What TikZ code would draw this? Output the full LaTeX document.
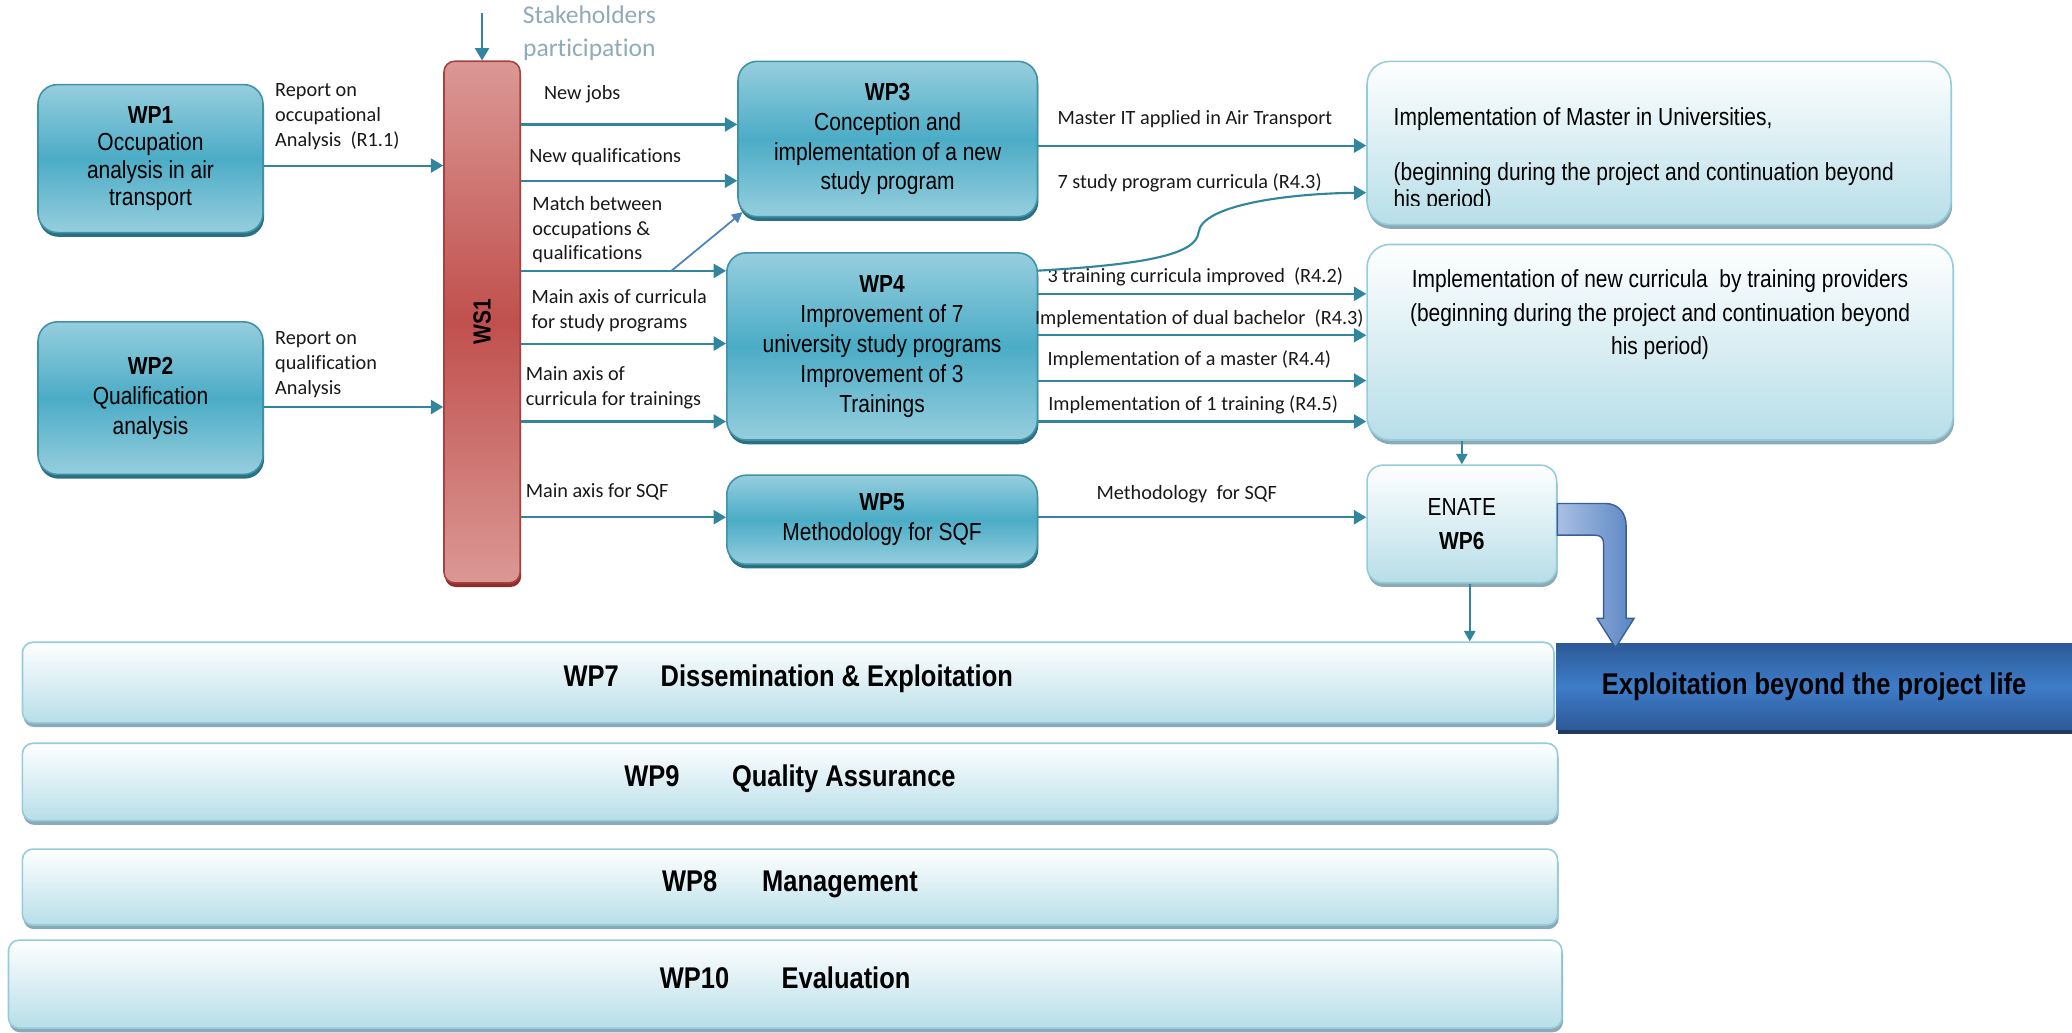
\documentclass[tikz,border=0pt]{standalone}
\usepackage{fontspec}
\setmainfont{Carlito}[Ligatures={NoCommon}]
\newfontfamily\narrowfont[FakeStretch=0.85]{Liberation Sans}
\usetikzlibrary{arrows.meta,shadows}

\definecolor{tealline}{HTML}{31859C}
\definecolor{tealfill}{HTML}{4BACC6}
\definecolor{teallight}{HTML}{96CEDE}
\definecolor{tealshadow}{HTML}{2A6F82}
\definecolor{resedge}{HTML}{93CDDD}
\definecolor{resbottom}{HTML}{B7DEE8}
\definecolor{resshadow}{HTML}{8DAAB4}
\definecolor{wsmid}{HTML}{C0504D}
\definecolor{wslight}{HTML}{DB9895}
\definecolor{wsedge}{HTML}{A8423F}
\definecolor{wsshadow}{HTML}{8B2E2C}
\definecolor{explmid}{HTML}{3E7CC9}
\definecolor{expledge}{HTML}{2D5A97}
\definecolor{explshadow}{HTML}{1E3A63}
\definecolor{forkblue}{HTML}{4F81BD}
\definecolor{stakegray}{HTML}{8FAAB8}
\definecolor{arrowlight}{HTML}{A9C0E2}
\definecolor{arrowdark}{HTML}{5A86C4}
\definecolor{arrowedge}{HTML}{3A5F98}

\tikzset{
  wpbox/.style={draw=tealfill!85!black, line width=0.9pt, rounded corners=11pt,
    top color=teallight, bottom color=teallight, middle color=tealfill,
    align=center, inner sep=2pt, font=\narrowfont\fontsize{14}{17}\selectfont,
    drop shadow={shadow xshift=0.6pt, shadow yshift=-2.4pt, fill=tealshadow, opacity=1}},
  wsbox/.style={draw=wsedge, line width=0.9pt, rounded corners=6pt,
    top color=wslight, bottom color=wslight, middle color=wsmid,
    font=\narrowfont\bfseries\fontsize{14}{17}\selectfont,
    drop shadow={shadow xshift=0.6pt, shadow yshift=-2.4pt, fill=wsshadow, opacity=1}},
  resbox/.style={draw=resedge, line width=0.9pt, rounded corners=13pt,
    top color=white, bottom color=resbottom, align=center,
    font=\narrowfont\fontsize{14}{19.5}\selectfont,
    drop shadow={shadow xshift=0.6pt, shadow yshift=-2.4pt, fill=resshadow, opacity=1}},
  restext/.style={inner sep=0pt, font=\narrowfont\fontsize{14}{15.5}\selectfont},
  barbox/.style={draw=resedge, line width=0.9pt, rounded corners=6pt,
    top color=white, bottom color=resbottom,
    font=\narrowfont\bfseries\fontsize{17}{20}\selectfont,
    text height=12.4pt, text depth=7.7pt,
    drop shadow={shadow xshift=0.6pt, shadow yshift=-2.4pt, fill=resshadow, opacity=1}},
  explbox/.style={draw=none, top color=expledge, bottom color=expledge, middle color=explmid,
    font=\narrowfont\bfseries\fontsize{17}{20}\selectfont,
    drop shadow={shadow xshift=0.8pt, shadow yshift=-2.6pt, fill=explshadow, opacity=1}},
  lbl/.style={inner sep=0pt, align=left, font=\fontsize{11.5}{14}\selectfont, text=black!90},
  stake/.style={inner sep=0pt, align=center, text=stakegray, font=\fontsize{14.5}{18.5}\selectfont},
  link/.style={draw=tealline, line width=1.2pt, -{Triangle[length=7pt,width=8pt]}},
  thinlink/.style={draw=tealline, line width=0.9pt, -{Triangle[length=6pt,width=6.5pt]}},
  fork/.style={draw=forkblue, line width=1pt, -{Triangle[length=6pt,width=6pt]}},
  bigarrow/.style={draw=arrowedge, line width=0.8pt, left color=arrowlight, right color=arrowdark}
}

\begin{document}
\begin{tikzpicture}[x=0.75pt, y=-0.75pt]
    % Fix the canvas
    \useasboundingbox (0,0) rectangle (1568,781);

    % Define the heights of the connector rows
    \foreach \n/\y in {one/125.3, two/308, jobs/94.2, qual/136.8, match/205, study/260,
                       train/319, sqf/391.4, mast/110.2, seven/145.8, three/222.4,
                       dual/253.7, amas/288, otr/319} {
        \coordinate (r\n) at (0,\y);
    }

    % Draw the analysis work packages
    \node[wpbox, minimum width=127.7pt, minimum height=84pt,
          font=\narrowfont\fontsize{14}{15.5}\selectfont] (wp1) at (113.9,120)
        {\textbf{WP1}\\Occupation\\analysis in air\\transport};
    \node[wpbox, minimum width=127.7pt, minimum height=86.6pt] (wp2) at (113.9,301.3)
        {\textbf{WP2}\\Qualification\\analysis};

    % Draw the WS1 bar
    \node[wsbox, minimum width=43.2pt, minimum height=296pt] (ws1) at (364.8,243.7)
        {\rotatebox{90}{WS1}};

    % Draw the development work packages
    \node[wpbox, minimum width=169.9pt, minimum height=88.2pt] (wp3) at (671.75,105.2)
        {\textbf{WP3}\\Conception and\\implementation of a new\\study program};
    \node[wpbox, minimum width=176.25pt, minimum height=106.2pt] (wp4) at (667.5,262.2)
        {\textbf{WP4}\\Improvement of 7\\university study programs\\Improvement of 3\\Trainings};
    \node[wpbox, minimum width=176.25pt, minimum height=50.55pt] (wp5) at (667.5,393.3)
        {\textbf{WP5}\\Methodology for SQF};

    % Draw the result boxes
    \node[resbox, minimum width=331.5pt, minimum height=92.7pt] (resA) at (1255.5,108.2) {};
    \node[resbox, minimum width=332.6pt, minimum height=111pt] (resB) at (1256.25,259) {};
    \node[resbox, rounded corners=9pt, minimum width=107.6pt, minimum height=66.75pt]
        (enate) at (1106.25,396.5) {ENATE\\\textbf{WP6}};

    \begin{scope}
        \clip (resA.north west) rectangle (resA.east |- 0,155.5);
        \node[restext, anchor=north west, align=left] (resAtxt)
            at ([xshift=15.4pt,yshift=-26.5pt]resA.north west)
            {Implementation of Master in Universities,\\[15.5pt]
             (beginning during the project and continuation beyond\\his period)};
    \end{scope}
    \node[restext, anchor=north, align=center, font=\narrowfont\fontsize{14}{19}\selectfont]
        (resBtxt) at ([yshift=-14.6pt]resB.north)
        {Implementation of new curricula \ by training providers\\
         (beginning during the project and continuation beyond\\his period)};

    % Draw the transversal work packages
    \node[barbox, minimum width=869.25pt, minimum height=45.75pt] (wp7) at (596.5,516.5)
        {WP7\hspace{1.4em}Dissemination \& Exploitation};
    \node[explbox, minimum width=292.8pt, minimum height=48.75pt] (expl) at (1372.8,519.5)
        {Exploitation beyond the project life};
    \node[barbox, minimum width=871.3pt, minimum height=43.9pt] (wp9) at (597.85,591.75)
        {WP9\hspace{1.75em}Quality Assurance};
    \node[barbox, minimum width=871.3pt, minimum height=43.1pt] (wp8) at (597.85,671.25)
        {WP8\hspace{1.5em}Management};
    \node[barbox, minimum width=881.7pt, minimum height=49.9pt] (wp10) at (594.2,744.75)
        {WP10\hspace{1.75em}Evaluation};

    % Stakeholders input
    \node[stake] (stk) at (446,25.3) {Stakeholders\\participation};
    \coordinate (stkin) at (ws1.north |- 0,10);
    \draw[link] (stkin) -- (ws1.north);

    % Labels of the connectors
    \node[lbl, anchor=west] (lrep1) at (208,88.3) {Report on\\occupational\\Analysis\ \ (R1.1)};
    \node[lbl, anchor=west] (lrep2) at (208,276) {Report on\\qualification\\Analysis};
    \node[lbl, anchor=west] (ljobs) at (411.5,71.6) {New jobs};
    \node[lbl, anchor=west] (lqual) at (400.3,118.9) {New qualifications};
    \node[lbl, anchor=west] (lmatch) at (402.7,174) {Match between\\occupations \&\\qualifications};
    \node[lbl, anchor=west] (lstudy) at (402,235) {Main axis of curricula\\for study programs};
    \node[lbl, anchor=west] (ltrain) at (397.6,293.5) {Main axis of\\curricula for trainings};
    \node[lbl, anchor=west] (lsqf) at (397.6,372.5) {Main axis for SQF};
    \node[lbl, anchor=west] (lmast) at (800,90) {Master IT applied in Air Transport};
    \node[lbl, anchor=west] (lseven) at (800,138.6) {7 study program curricula (R4.3)};
    \node[lbl, anchor=west] (lthree) at (792.5,209.3) {3 training curricula improved\ \ (R4.2)};
    \node[lbl, anchor=west] (ldual) at (783,241.2) {Implementation of dual bachelor\ \ (R4.3)};
    \node[lbl, anchor=west] (lamas) at (792.5,272.5) {Implementation of a master (R4.4)};
    \node[lbl, anchor=west] (lotr) at (793,306.7) {Implementation of 1 training (R4.5)};
    \node[lbl, anchor=west] (lmeth) at (829.6,374) {Methodology\ \ for SQF};

    % Draw the connectors
    \draw[link] (wp1.east |- rone) -- (ws1.west |- rone);
    \draw[link] (wp2.east |- rtwo) -- (ws1.west |- rtwo);
    \foreach \r/\t in {jobs/wp3, qual/wp3, match/wp4, study/wp4, train/wp4, sqf/wp5} {
        \draw[link] (ws1.east |- r\r) -- (\t.west |- r\r);
    }
    \draw[link] (wp3.east |- rmast) -- (resA.west |- rmast);
    \foreach \r in {three, dual, amas, otr} {
        \draw[link] (wp4.east |- r\r) -- (resB.west |- r\r);
    }
    \draw[link] (wp5.east |- rsqf) -- (enate.west |- rsqf);
    \draw[link] ([yshift=-10.5pt]wp4.north east) .. controls (870,200) and (905,192) .. (907,176)
        .. controls (909,155) and (975,146.5) .. (resA.west |- rseven);

    % Match feeds WP3 too
    \coordinate (mfork) at (508,205);
    \draw[fork] (mfork) -- ([shift={(3pt,3pt)}]wp3.south west);

    % Towards ENATE and WP7
    \draw[thinlink] (enate.north |- resB.south) -- (enate.north);
    \draw[thinlink] ([xshift=4.5pt]enate.south) -- ([xshift=4.5pt]enate.south |- wp7.north);

    % Bent arrow to the exploitation box
    \begin{scope}[shift={(enate.east)}]
        \draw[bigarrow] (0,-15.5) -- (36,-15.5) .. controls (46,-15.5) and (52,-8.5) .. (52,1.5)
            -- (52,71.5) -- (58,71.5) -- (44,93.5) -- (30,71.5) -- (35,71.5) -- (35,15.5)
            .. controls (35,10.5) and (33,8.5) .. (28,8.5) -- (0,8.5) -- cycle;
    \end{scope}

\end{tikzpicture}
\end{document}
